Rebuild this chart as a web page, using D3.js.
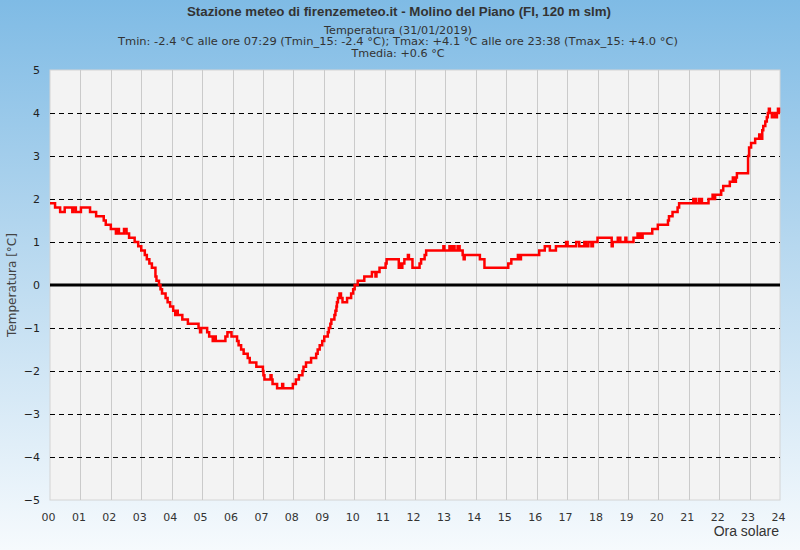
<!DOCTYPE html>
<html><head><meta charset="utf-8">
<script src="https://cdn.jsdelivr.net/npm/d3@7"></script>
<style>
html,body{margin:0;padding:0;}
svg{display:block;}
</style></head>
<body>
<svg id="chart" width="800" height="550"></svg>
<script>
// ---- data ----
const titleText = "Stazione meteo di firenzemeteo.it - Molino del Piano (FI, 120 m slm)";
const subtitleLines = [
  "Temperatura (31/01/2019)",
  "Tmin: -2.4 °C alle ore 07:29 (Tmin_15: -2.4 °C); Tmax: +4.1 °C alle ore 23:38 (Tmax_15: +4.0 °C)",
  "Tmedia: +0.6 °C"
];
const yTicks = [-5,-4,-3,-2,-1,0,1,2,3,4,5];
const xTickLabels = ["00","01","02","03","04","05","06","07","08","09","10","11","12","13","14","15","16","17","18","19","20","21","22","23","24"];
const yAxisTitle = "Temperatura [°C]";
const xAxisTitle = "Ora solare";

// readings (time of change, temperature °C), 10 per row
const times = [
"00:00","00:10","00:20","00:29","00:44","00:46","00:51","01:01","01:19","01:31",
"01:46","01:50","02:00","02:10","02:14","02:16","02:26","02:31","02:36","02:47",
"02:54","03:00","03:07","03:11","03:16","03:21","03:28","03:30","03:35","03:38",
"03:41","03:48","03:52","03:57","04:03","04:07","04:09","04:12","04:21","04:32",
"04:53","04:56","04:58","05:10","05:14","05:21","05:25","05:27","05:46","05:50",
"05:58","06:09","06:12","06:17","06:22","06:30","06:34","06:47","07:00","07:01",
"07:03","07:15","07:17","07:19","07:28","07:38","07:40","07:59","08:05","08:11",
"08:18","08:20","08:25","08:35","08:45","08:48","08:52","08:57","09:01","09:08",
"09:10","09:13","09:15","09:21","09:23","09:25","09:26","09:28","09:31","09:34",
"09:37","09:46","09:54","09:58","10:01","10:07","10:20","10:35","10:42","10:44",
"10:50","11:02","11:04","11:28","11:30","11:31","11:35","11:39","11:46","11:48",
"11:55","12:09","12:12","12:19","12:22","12:56","12:58","13:08","13:11","13:14",
"13:18","13:24","13:28","13:34","13:36","13:38","14:08","14:17","15:04","15:10",
"15:23","15:26","15:29","16:05","16:16","16:26","16:38","16:58","17:01","17:18",
"17:24","17:34","17:37","17:42","17:48","17:51","18:00","18:28","18:30","18:40",
"18:45","18:55","18:57","19:11","19:19","19:22","19:24","19:27","19:29","19:48",
"19:59","20:19","20:21","20:28","20:38","20:41","21:09","21:10","21:12","21:14",
"21:20","21:22","21:24","21:26","21:39","21:47","21:50","21:52","22:04","22:08",
"22:21","22:27","22:31","22:33","22:35","22:57","22:59","23:03","23:11","23:19",
"23:21","23:25","23:27","23:31","23:34","23:36","23:38","23:40","23:44","23:49",
"23:52","23:54","23:56","23:58","24:00"
];
const temps = [
1.9,1.8,1.7,1.8,1.7,1.8,1.7,1.8,1.7,1.6,
1.5,1.4,1.3,1.2,1.3,1.2,1.3,1.2,1.1,1.0,
0.9,0.8,0.7,0.6,0.5,0.4,0.2,0.1,0.0,-0.1,
-0.2,-0.3,-0.4,-0.5,-0.6,-0.7,-0.6,-0.7,-0.8,-0.9,
-1.0,-1.1,-1.0,-1.1,-1.2,-1.3,-1.2,-1.3,-1.2,-1.1,
-1.2,-1.3,-1.4,-1.5,-1.6,-1.7,-1.8,-1.9,-2.0,-2.1,
-2.2,-2.1,-2.2,-2.3,-2.4,-2.3,-2.4,-2.3,-2.2,-2.1,
-2.0,-1.9,-1.8,-1.7,-1.6,-1.5,-1.4,-1.3,-1.2,-1.1,
-1.0,-0.9,-0.8,-0.7,-0.6,-0.5,-0.4,-0.3,-0.2,-0.3,
-0.4,-0.3,-0.2,-0.1,0.0,0.1,0.2,0.3,0.2,0.3,
0.4,0.5,0.6,0.4,0.5,0.4,0.5,0.6,0.7,0.6,
0.4,0.5,0.6,0.7,0.8,0.9,0.8,0.9,0.8,0.9,
0.8,0.9,0.8,0.7,0.6,0.7,0.6,0.4,0.5,0.6,
0.7,0.6,0.7,0.8,0.9,0.8,0.9,1.0,0.9,1.0,
0.9,1.0,0.9,1.0,0.9,1.0,1.1,0.9,1.0,1.1,
1.0,1.1,1.0,1.1,1.2,1.1,1.2,1.1,1.2,1.3,
1.4,1.5,1.6,1.7,1.8,1.9,2.0,1.9,2.0,1.9,
2.0,1.9,2.0,1.9,2.0,2.1,2.0,2.1,2.2,2.3,
2.4,2.5,2.4,2.5,2.6,3.0,3.2,3.3,3.4,3.5,
3.4,3.6,3.7,3.8,3.9,4.0,4.1,4.0,3.9,4.0,
3.9,4.0,4.1,4.0,4.0
];

// ---- chart ----
const W = 800, H = 550;
const margin = {left: 50, right: 20, top: 70, bottom: 50};
const svg = d3.select("#chart");

const defs = svg.append("defs");
const grad = defs.append("linearGradient").attr("id","bg").attr("x1",0).attr("y1",0).attr("x2",0).attr("y2",1);
grad.append("stop").attr("offset","0%").attr("stop-color","#7fbbe5");
grad.append("stop").attr("offset","45%").attr("stop-color","#b7d8ef");
grad.append("stop").attr("offset","100%").attr("stop-color","#f6fafd");
svg.append("rect").attr("width",W).attr("height",H).attr("fill","url(#bg)");

const x = d3.scaleLinear().domain([0,24]).range([margin.left, W - margin.right]);
const y = d3.scaleLinear().domain([-5,5]).range([H - margin.bottom, margin.top]);

// plot area
svg.append("rect")
  .attr("x", x(0)).attr("y", y(5))
  .attr("width", x(24)-x(0)).attr("height", y(-5)-y(5))
  .attr("fill","#f3f3f3").attr("stroke","#d4d4d4").attr("stroke-width",1);

// vertical gridlines
svg.append("g").selectAll("line")
  .data(d3.range(1,24))
  .join("line")
  .attr("x1", d => Math.round(x(d))+0.5).attr("x2", d => Math.round(x(d))+0.5)
  .attr("y1", y(5)).attr("y2", y(-5))
  .attr("stroke","#cacaca").attr("stroke-width",1);

// horizontal dashed gridlines
svg.append("g").selectAll("line")
  .data(yTicks.filter(v => v !== 0 && Math.abs(v) !== 5))
  .join("line")
  .attr("x1", x(0)).attr("x2", x(24))
  .attr("y1", d => Math.round(y(d))+0.5).attr("y2", d => Math.round(y(d))+0.5)
  .attr("stroke","#000").attr("stroke-width",1).attr("stroke-dasharray","5,4");

// zero line
svg.append("line")
  .attr("x1", x(0)).attr("x2", x(24))
  .attr("y1", y(0)).attr("y2", y(0))
  .attr("stroke","#000").attr("stroke-width",3);

// y axis
const yAxis = d3.axisLeft(y).tickValues(yTicks).tickSize(0).tickPadding(0).tickFormat(d3.format("d"));
const gy = svg.append("g").attr("transform", `translate(${x(0)-10},0)`).call(yAxis);
gy.select(".domain").remove();
gy.selectAll("text").attr("font-family","DejaVu Sans").attr("font-size",11).attr("fill","#222");

// x axis
const xAxis = d3.axisBottom(x).tickValues(d3.range(0,25)).tickSize(0).tickPadding(0)
  .tickFormat((d,i) => xTickLabels[i]);
const gx = svg.append("g").attr("transform", `translate(0,${y(-5)+13})`).call(xAxis);
gx.select(".domain").remove();
gx.selectAll("text").attr("font-family","DejaVu Sans").attr("font-size",11).attr("fill","#333").attr("dx","-2");

// data line
const parseT = s => { const p = s.split(":"); return +p[0] + (+p[1])/60; };
const data = times.map((t,i) => ({h: parseT(t), v: temps[i]}));
const line = d3.line().x(d => x(d.h)).y(d => y(d.v)).curve(d3.curveStepAfter);
svg.append("path").datum(data)
  .attr("d", line)
  .attr("fill","none").attr("stroke","#ff0000").attr("stroke-width",2.5)
  .attr("stroke-linejoin","miter");

// titles
svg.append("text").attr("x",399).attr("y",16).attr("text-anchor","middle")
  .attr("font-family","Liberation Sans, Arial").attr("font-weight","bold").attr("font-size",13.3)
  .attr("fill","#333").text(titleText);
svg.selectAll("text.sub").data(subtitleLines).join("text").attr("class","sub")
  .attr("x",398).attr("y",(d,i) => 33.5 + i*11.6).attr("text-anchor","middle")
  .attr("font-family","DejaVu Sans").attr("font-size",11.2)
  .attr("textLength", (d,i) => i === 1 ? 560 : null)
  .attr("lengthAdjust","spacingAndGlyphs")
  .attr("fill","#333").text(d => d);

// axis titles
svg.append("text").attr("transform",`translate(16,${(y(5)+y(-5))/2}) rotate(-90)`)
  .attr("text-anchor","middle").attr("font-family","DejaVu Sans").attr("font-size",12)
  .attr("fill","#444").text(yAxisTitle);
svg.append("text").attr("x",x(24)-1).attr("y",536).attr("text-anchor","end")
  .attr("font-family","Liberation Sans, Arial").attr("font-size",14).attr("fill","#333").text(xAxisTitle);
</script>
</body></html>
